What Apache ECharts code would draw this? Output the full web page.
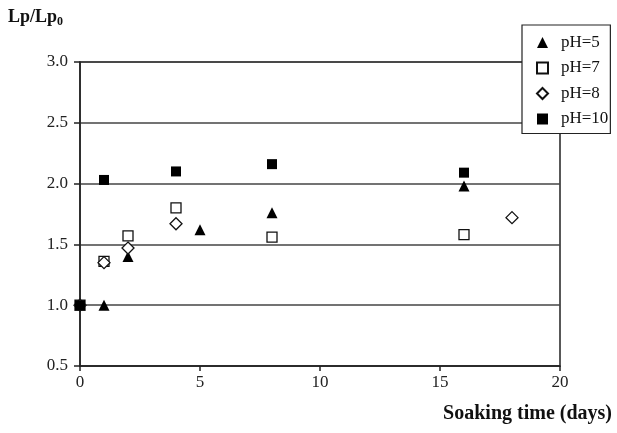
<!DOCTYPE html>
<html>
<head>
<meta charset="utf-8">
<script src="https://cdn.jsdelivr.net/npm/echarts@6/dist/echarts.min.js"></script>
<style>
  html, body { margin: 0; padding: 0; background: #fff; }
  #chart { width: 617px; height: 433px; }
</style>
</head>
<body>
<div id="chart"></div>
<script>
// soaking time (days) and Lp/Lp0
var ph5 = [[0, 1.0], [1, 1.0], [2, 1.40], [5, 1.62], [8, 1.76], [16, 1.98]];
var ph7 = [[0, 1.0], [1, 1.36], [2, 1.57], [4, 1.80], [8, 1.56], [16, 1.58]];
var ph8 = [[0, 1.0], [1, 1.35], [2, 1.47], [4, 1.67], [18, 1.72]];
var ph10 = [[0, 1.0], [1, 2.03], [4, 2.10], [8, 2.16], [16, 2.09]];
var seriesNames = ['pH=5', 'pH=7', 'pH=8', 'pH=10'];

var serif = '"Liberation Serif", "Times New Roman", serif';

var chart = echarts.init(document.getElementById('chart'));
chart.setOption({
    animation: false,
    backgroundColor: '#fff',
    textStyle: { fontFamily: serif },
    grid: {
        left: 80, right: 57, top: 62, bottom: 67,
        show: true, borderColor: '#222', borderWidth: 1.5
    },
    legend: {
        data: seriesNames,
        orient: 'vertical',
        left: 522, top: 25,
        padding: [9, 2, 6, 14],
        itemWidth: 11, itemHeight: 11, itemGap: 8.5,
        borderColor: '#222', borderWidth: 1.2,
        backgroundColor: '#fff',
        textStyle: { fontFamily: serif, fontSize: 17, color: '#111', lineHeight: 15, padding: [0, 0, 0, 8] }
    },
    xAxis: {
        type: 'value', min: 0, max: 20, interval: 5,
        axisLine: { lineStyle: { color: '#222', width: 1.5 } },
        axisTick: { length: 5, lineStyle: { color: '#222', width: 1.5 } },
        axisLabel: { fontFamily: serif, fontSize: 17, color: '#222', margin: 8 },
        splitLine: { show: false }
    },
    yAxis: {
        type: 'value', min: 0.5, max: 3.0, interval: 0.5,
        axisLine: { show: true, lineStyle: { color: '#222', width: 1.5 } },
        axisTick: { show: true, length: 6, lineStyle: { color: '#222', width: 1.5 } },
        axisLabel: {
            fontFamily: serif, fontSize: 17, color: '#222', margin: 12,
            formatter: function (v) { return v.toFixed(1); }
        },
        splitLine: { show: true, lineStyle: { color: '#444', width: 1.5 } }
    },
    graphic: [{
        type: 'text', left: 8, top: 8,
        style: {
            text: '{a|Lp/Lp}{b|0}',
            rich: {
                a: { fontFamily: serif, fontSize: 18, fontWeight: 'bold', fill: '#111' },
                b: { fontFamily: serif, fontSize: 12, fontWeight: 'bold', fill: '#111', padding: [9, 0, 0, 0] }
            }
        }
    }, {
        type: 'text', right: 5, top: 404,
        style: {
            text: 'Soaking time (days)',
            fontFamily: serif, fontSize: 20, fontWeight: 'bold', fill: '#111'
        }
    }],
    series: [{
        name: seriesNames[0], type: 'scatter', data: ph5,
        symbol: 'triangle', symbolSize: 11,
        itemStyle: { color: '#000', opacity: 1 }
    }, {
        name: seriesNames[1], type: 'scatter', data: ph7,
        symbol: 'rect', symbolSize: 10,
        itemStyle: { color: '#fff', borderColor: '#111', borderWidth: 1.3, opacity: 1 }
    }, {
        name: seriesNames[2], type: 'scatter', data: ph8,
        symbol: 'diamond', symbolSize: 12,
        itemStyle: { color: '#fff', borderColor: '#111', borderWidth: 1.3, opacity: 1 }
    }, {
        name: seriesNames[3], type: 'scatter', data: ph10,
        symbol: 'rect', symbolSize: 10,
        itemStyle: { color: '#000', opacity: 1 }
    }]
});
</script>
</body>
</html>
